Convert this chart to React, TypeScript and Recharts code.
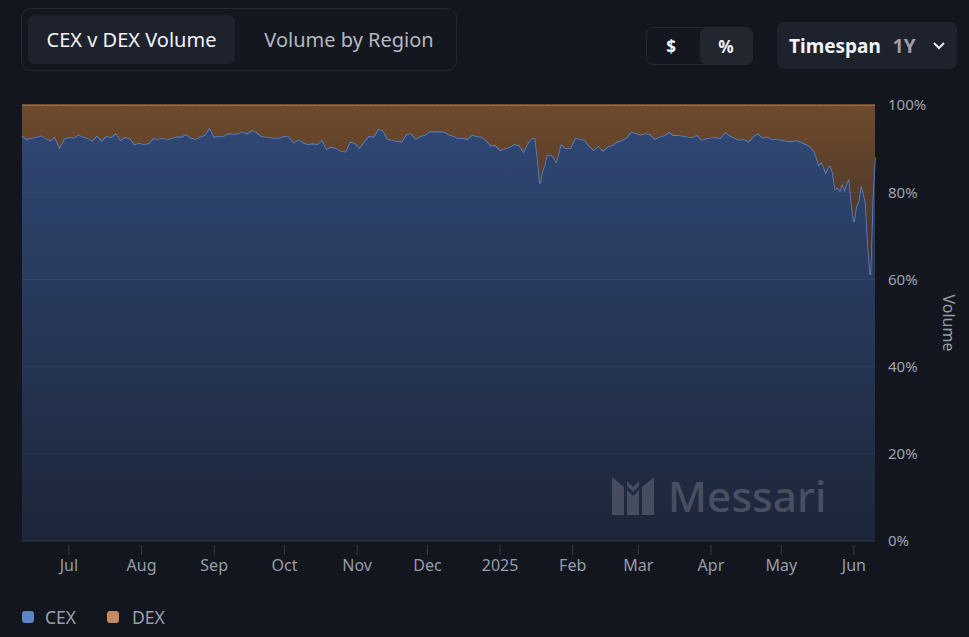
import React from "react";
import { Area, AreaChart, CartesianGrid, ReferenceLine, XAxis, YAxis } from "recharts";

// day offsets from 2024-06-11; every second day, then daily for the last stretch
const dayOffsets = [
  0, 2, 4, 6, 8, 10, 12, 14, 16, 18, 20, 22, 24, 26, 28, 30, 32, 34, 36, 38, 40, 42, 44, 46,
  48, 50, 52, 54, 56, 58, 60, 62, 64, 66, 68, 70, 72, 74, 76, 78, 80, 82, 84, 86, 88, 90,
  92, 94, 96, 98, 100, 102, 104, 106, 108, 110, 112, 114, 116, 118, 120, 122, 124, 126, 128, 130, 132, 134, 136, 138,
  140, 142, 144, 146, 148, 150, 152, 154, 156, 158, 160, 162, 164, 166, 168, 170, 172, 174, 176, 178, 180, 182, 184,
  186, 188, 190, 192, 194, 196, 198, 200, 202, 204, 206, 208, 210, 212, 214, 216, 218,
  219, 220, 221, 222, 223, 224, 226, 228, 230,
  232, 234, 236, 238, 240, 242, 244, 246, 248, 250, 252, 254, 256, 258, 260, 262, 264, 266, 268, 270, 272, 274, 276,
  278, 280, 282, 284, 286, 288, 290, 292, 294, 296, 298, 300, 302, 304, 306, 308, 310, 312, 314, 316, 318, 320, 322,
  324, 326, 328, 330, 332, 334, 336, 338,
  339, 340, 341, 342, 343, 344, 345, 346, 347, 348, 349, 350, 351, 352, 353, 354, 355, 356, 357, 358, 359, 360, 361, 362, 363, 364,
];

// CEX share of total volume, %
const cexShare = [
  92.9, 92.2, 92.5, 92.6, 93.0, 92.4, 91.8, 92.7, 90.2, 92.3, 92.6, 92.5, 93.1, 92.8, 92.4, 91.8, 93.0, 91.8, 92.9, 92.6, 93.5, 92.0, 92.6, 92.4,
  91.0, 91.3, 91.0, 91.2, 92.4, 92.2, 92.4, 92.2, 92.4, 92.8, 92.7, 93.3, 92.5, 92.2, 92.7, 93.1, 94.8, 92.7, 92.9, 92.9, 93.5, 93.4,
  93.4, 93.9, 93.4, 94.2, 93.8, 92.9, 92.7, 92.6, 92.4, 92.5, 92.9, 92.7, 91.4, 92.1, 91.4, 91.0, 91.2, 91.0, 92.0, 89.9, 90.4, 90.1, 89.5, 89.3,
  91.6, 91.3, 90.2, 91.6, 92.9, 92.7, 94.5, 94.2, 92.2, 92.0, 91.7, 91.6, 93.3, 93.5, 92.2, 92.9, 93.1, 94.0, 93.9, 93.9, 93.9, 93.3, 92.9,
  92.4, 92.5, 92.2, 93.1, 92.9, 92.6, 92.0, 90.7, 90.8, 89.6, 90.1, 90.3, 91.0, 90.8, 89.3, 91.4, 92.5,
  92.4, 87.8, 82.0, 84.7, 86.3, 88.5, 88.6, 87.0, 91.0,
  90.1, 90.1, 92.4, 92.2, 92.0, 90.6, 89.7, 90.6, 89.5, 90.5, 90.8, 91.6, 91.9, 92.5, 93.9, 93.5, 93.2, 93.5, 93.3, 92.2, 92.7, 93.0, 93.8,
  93.1, 93.1, 92.9, 92.7, 92.6, 93.1, 92.0, 92.4, 92.5, 92.6, 92.4, 93.8, 93.0, 92.5, 92.0, 92.2, 91.6, 92.8, 93.5, 92.5, 92.7, 92.2, 92.2,
  92.0, 91.8, 91.6, 91.9, 91.6, 91.1, 90.6, 89.4,
  88.0, 86.2, 86.9, 85.9, 84.5, 85.7, 86.2, 84.3, 80.7, 81.0, 80.3, 82.0, 80.5, 82.2, 83.1, 77.1, 73.2, 76.7, 77.8, 81.6, 80.0, 77.5, 68.0, 61.0, 78.5, 88.0,
];

const monthTicks = [20, 51, 82, 112, 143, 173, 204, 235, 263, 294, 324, 355];
const monthLabels = ["Jul", "Aug", "Sep", "Oct", "Nov", "Dec", "2025", "Feb", "Mar", "Apr", "May", "Jun"];
const percentTicks = [0, 20, 40, 60, 80, 100];

const data = dayOffsets.map((day, i) => ({ day, cex: cexShare[i], dex: +(100 - cexShare[i]).toFixed(1) }));

const FONT = "'Noto Sans', 'Open Sans', sans-serif";
const BG = "#13161e";

function MonthTick({ x, y, payload }: any) {
  const idx = monthTicks.indexOf(payload.value);
  return (
    <g>
      <line x1={x} x2={x} y1={y + 4} y2={y + 14} stroke="#363b47" />
      <text x={x} y={y + 30} textAnchor="middle" fill="#979daa" fontSize={16} fontFamily={FONT}>
        {monthLabels[idx]}
      </text>
    </g>
  );
}

function Watermark() {
  return (
    <svg width={969} height={637} style={{ position: "absolute", left: 0, top: 0, pointerEvents: "none" }}>
      <g fill="#4d5465" opacity={0.85}>
        <polygon points="612,477 624,487 624,515 612,515" />
        <polygon points="627,490 633,496 639,490 639,515 627,515" />
        <polygon points="642,487 654,477 654,515 642,515" />
        <polygon points="627,481 633,487 639,481 639,486 633,492 627,486" />
      </g>
      <text x={668} y={512} fill="#4d5465" fontSize={42.5} fontFamily={FONT} fontWeight={500} opacity={0.9}>
        Messari
      </text>
    </svg>
  );
}

export default function App() {
  return (
    <div style={{ position: "relative", width: 969, height: 637, background: BG, fontFamily: FONT, overflow: "hidden" }}>
      <style>{`body{margin:0;background:${BG};}`}</style>

      {/* tab group */}
      <div
        style={{
          position: "absolute", left: 21, top: 8, width: 436, height: 63, boxSizing: "border-box",
          border: "1px solid #252934", borderRadius: 10, background: "#14171f",
        }}
      />
      <div
        style={{
          position: "absolute", left: 28, top: 15, width: 207, height: 49, borderRadius: 7, background: "#1e222c",
          color: "#f1f3f6", fontSize: 20, display: "flex", alignItems: "center", justifyContent: "center",
        }}
      >
        CEX v DEX Volume
      </div>
      <div
        style={{
          position: "absolute", left: 246, top: 15, width: 206, height: 49, color: "#b4b8c1", fontSize: 20,
          display: "flex", alignItems: "center", justifyContent: "center",
        }}
      >
        Volume by Region
      </div>

      {/* $ / % toggle */}
      <div
        style={{
          position: "absolute", left: 646, top: 27, width: 107, height: 38, boxSizing: "border-box",
          border: "1px solid #252934", borderRadius: 7, background: "#14171f",
        }}
      />
      <div style={{ position: "absolute", left: 645, top: 28, width: 52, height: 36, color: "#f1f3f6", fontSize: 17, fontWeight: 700, display: "flex", alignItems: "center", justifyContent: "center" }}>
        $
      </div>
      <div style={{ position: "absolute", left: 700, top: 28, width: 52, height: 36, borderRadius: 6, background: "#22262f", color: "#f1f3f6", fontSize: 17, fontWeight: 700, display: "flex", alignItems: "center", justifyContent: "center" }}>
        %
      </div>

      {/* timespan */}
      <div
        style={{
          position: "absolute", left: 777, top: 22, width: 180, height: 47, borderRadius: 7, background: "#1e222c",
          display: "flex", alignItems: "center", boxSizing: "border-box", paddingLeft: 12,
        }}
      >
        <span style={{ color: "#f1f3f6", fontSize: 19, fontWeight: 700 }}>Timespan</span>
        <span style={{ color: "#9aa0ab", fontSize: 19, fontWeight: 700, marginLeft: 12 }}>1Y</span>
        <svg width={14} height={10} style={{ marginLeft: 16 }}>
          <polyline points="2,2 7,7 12,2" fill="none" stroke="#e6e8ec" strokeWidth={2} />
        </svg>
      </div>

      {/* chart */}
      <div style={{ position: "absolute", left: 0, top: 95, width: 969, height: 490 }}>
        <AreaChart width={969} height={490} data={data} margin={{ top: 10, right: 0, left: 22, bottom: 0 }}>
          <defs>
            <linearGradient id="cexFill" x1="0" y1="0" x2="0" y2="1">
              <stop offset="0%" stopColor="#2f4774" />
              <stop offset="100%" stopColor="#1d2639" />
            </linearGradient>
            <linearGradient id="dexFill" x1="0" y1="0" x2="0" y2="1">
              <stop offset="0%" stopColor="#6f4a2c" />
              <stop offset="100%" stopColor="#3f3129" />
            </linearGradient>
          </defs>
          <CartesianGrid vertical={false} horizontal={false} />
          <XAxis
            type="number"
            dataKey="day"
            domain={[0, 364]}
            ticks={monthTicks}
            interval={0}
            axisLine={false}
            tickLine={false}
            tickSize={0}
            tickMargin={0}
            height={44}
            tick={<MonthTick />}
          />
          <YAxis
            orientation="right"
            domain={[0, 100]}
            ticks={percentTicks}
            width={94}
            axisLine={false}
            tickLine={false}
            tickSize={0}
            tickMargin={13}
            tickFormatter={(v) => `${v}%`}
            tick={{ fill: "#9ea3ae", fontSize: 15, fontFamily: FONT }}
            label={{ value: "Volume", angle: 90, position: "center", dx: 27, fill: "#979daa", fontSize: 16, fontFamily: FONT }}
          />
          <Area
            type="linear"
            dataKey="cex"
            stackId="v"
            stroke="#5b84c9"
            strokeWidth={1.6}
            fill="url(#cexFill)"
            fillOpacity={1}
            isAnimationActive={false}
            dot={false}
            activeDot={false}
          />
          <Area
            type="linear"
            dataKey="dex"
            stackId="v"
            stroke="#c98a5a"
            strokeWidth={1}
            fill="url(#dexFill)"
            fillOpacity={1}
            isAnimationActive={false}
            dot={false}
            activeDot={false}
          />
          {[20, 40, 60, 80].map((v) => (
            <ReferenceLine key={v} y={v} stroke="rgba(255,255,255,0.05)" />
          ))}
          <ReferenceLine y={0} stroke="#2c3850" />
        </AreaChart>
      </div>

      <Watermark />

      {/* legend */}
      <div style={{ position: "absolute", left: 22, top: 605, display: "flex", alignItems: "center", color: "#9aa0ab", fontSize: 17.5 }}>
        <span style={{ width: 12, height: 12, borderRadius: 3, background: "#5b84c9", display: "inline-block" }} />
        <span style={{ marginLeft: 11 }}>CEX</span>
        <span style={{ width: 12, height: 12, borderRadius: 3, background: "#c48a63", display: "inline-block", marginLeft: 31 }} />
        <span style={{ marginLeft: 13 }}>DEX</span>
      </div>
    </div>
  );
}
